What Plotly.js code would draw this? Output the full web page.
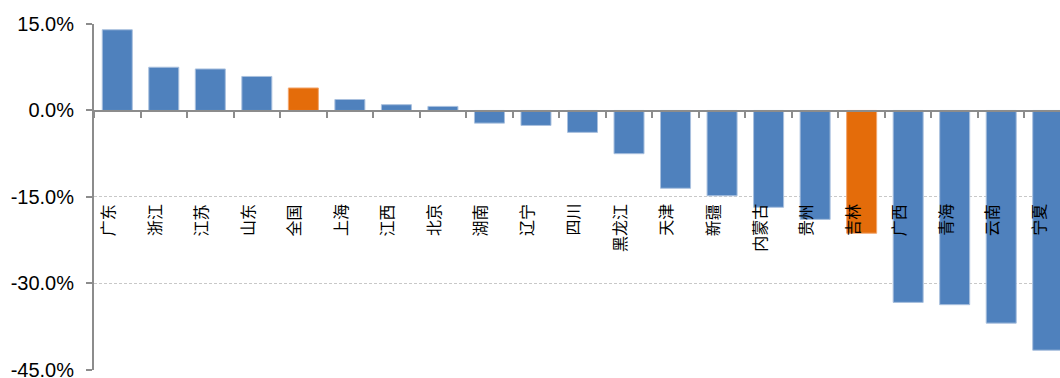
<!DOCTYPE html>
<html>
<head>
<meta charset="utf-8">
<script src="https://cdn.plot.ly/plotly-3.0.1.min.js"></script>
<style>
html,body{margin:0;padding:0;overflow:hidden;background:#fff;}
#chart{width:1076px;height:378px;}
</style>
</head>
<body>
<div id="chart"></div>
<script>
const categories = ["广东","浙江","江苏","山东","全国","上海","江西","北京","湖南","辽宁","四川","黑龙江","天津","新疆","内蒙古","贵州","吉林","广西","青海","云南","宁夏"];
const values = [14.0, 7.5, 7.2, 5.9, 3.9, 1.9, 1.0, 0.7, -2.2, -2.6, -3.8, -7.5, -13.5, -14.8, -16.8, -18.9, -21.3, -33.3, -33.7, -36.9, -41.6];
const highlighted = ["全国","吉林"];
const yTicks = [-45, -30, -15, 0, 15];
const labelLevel = -15.9;

const blue = "#4F81BD", orange = "#E46C0A";
const colors = categories.map(c => highlighted.includes(c) ? orange : blue);
const edge = categories.map(c => highlighted.includes(c) ? "#F2A66E" : "#A9C0DE");

const trace = {
  type: "bar",
  x: categories,
  y: values,
  marker: {color: colors, line: {color: edge, width: 1}},
  hoverinfo: "x+y"
};

const annotations = categories.map(c => ({
  x: c, y: labelLevel, xref: "x", yref: "y",
  text: c, showarrow: false, textangle: -90,
  xanchor: "center", yanchor: "top", xshift: -10,
  font: {family: "Noto Sans CJK SC", size: 16, color: "#000"}
}));

const layout = {
  width: 1076, height: 378,
  margin: {l: 94, r: 5, t: 24, b: 8},
  paper_bgcolor: "#fff", plot_bgcolor: "#fff",
  showlegend: false,
  bargap: 0.355,
  font: {family: "Liberation Sans, Arial", color: "#000"},
  xaxis: {
    type: "category",
    anchor: "free", position: 0.75,
    showline: true, linecolor: "#8C8C8C", linewidth: 2,
    ticks: "outside", tickson: "boundaries", ticklen: 6, tickwidth: 2, tickcolor: "#8C8C8C",
    showticklabels: false, showgrid: false, zeroline: false,
    range: [-0.5, categories.length - 0.5]
  },
  yaxis: {
    range: [-45.03, 15],
    tickvals: yTicks,
    ticktext: yTicks.map(v => v.toFixed(1) + "%"),
    tickfont: {family: "Liberation Sans, Arial", size: 20, color: "#000"},
    showline: true, linecolor: "#8C8C8C", linewidth: 2,
    ticks: "outside", ticklen: 6, tickwidth: 2, tickcolor: "#8C8C8C",
    ticklabelstandoff: 8,
    ticklabeloverflow: "allow",
    showgrid: true, gridcolor: "#C8C8C8", gridwidth: 1, griddash: "3px,2px",
    zeroline: false
  },
  annotations: annotations
};

Plotly.newPlot("chart", [trace], layout, {displayModeBar: false, staticPlot: true});
</script>
</body>
</html>
